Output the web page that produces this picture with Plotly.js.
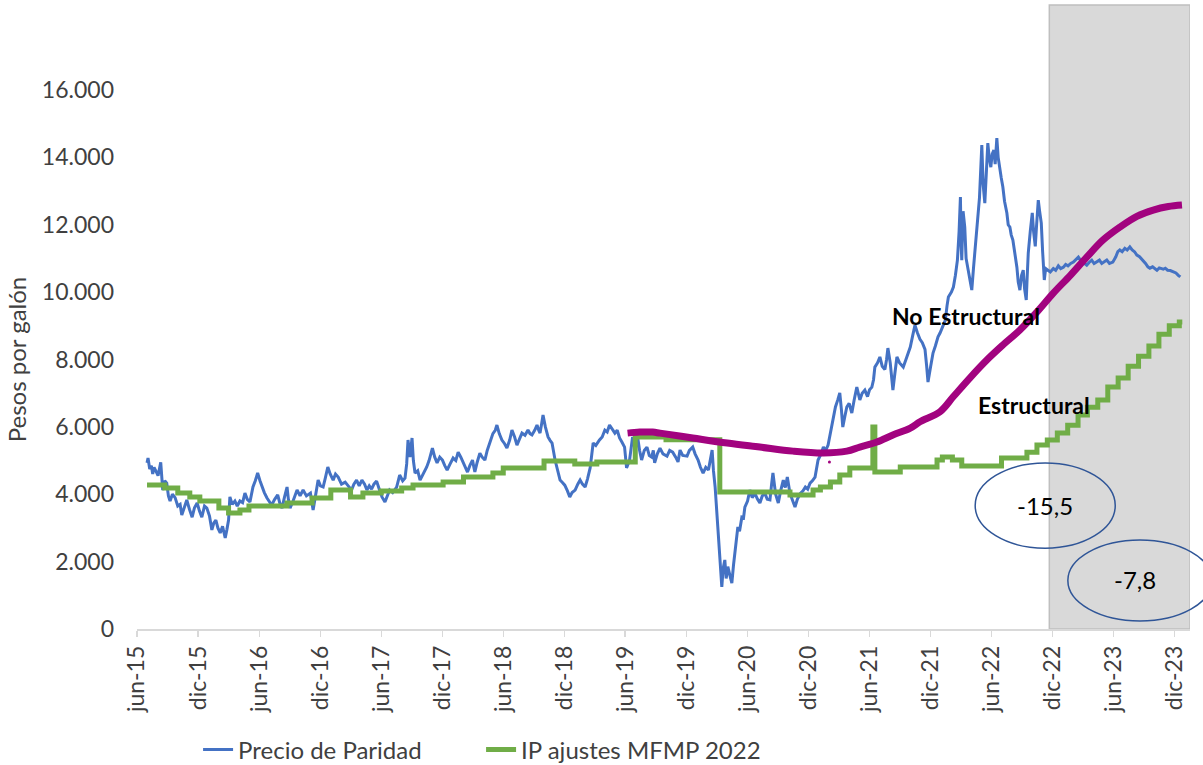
<!DOCTYPE html>
<html>
<head>
<meta charset="utf-8">
<script src="https://cdn.plot.ly/plotly-3.0.1.min.js"></script>
<style>html,body{margin:0;padding:0;background:#fff;}#chart{width:1203px;height:765px;}</style>
</head>
<body>
<div id="chart"></div>
<script>
// Precio de Paridad (pesos por galón), grouped by year
const blue2015 = [["2015-07-01",4930],["2015-07-04",5075],["2015-07-09",4750],["2015-07-14",4850],["2015-07-18",4600],["2015-07-22",4800],["2015-07-27",4700],["2015-08-03",4550],["2015-08-11",4950],["2015-08-14",4500],["2015-08-17",4125],["2015-08-23",4400],["2015-08-29",4330],["2015-09-03",3950],["2015-09-08",3800],["2015-09-15",4000],["2015-09-23",3900],["2015-10-01",3650],["2015-10-08",3700],["2015-10-13",3380],["2015-10-20",3600],["2015-10-28",3830],["2015-11-05",3550],["2015-11-13",3320],["2015-11-20",3600],["2015-11-28",3740],["2015-12-05",3500],["2015-12-12",3320],["2015-12-20",3650],["2015-12-27",3590]];
const blue2016 = [["2016-01-04",3350],["2016-01-11",2940],["2016-01-17",3150],["2016-01-23",3235],["2016-01-29",3000],["2016-02-05",2850],["2016-02-12",3050],["2016-02-20",2700],["2016-02-25",2950],["2016-03-01",3235],["2016-03-05",3920],["2016-03-12",3700],["2016-03-20",3800],["2016-03-27",3650],["2016-04-04",3800],["2016-04-12",3750],["2016-04-19",4035],["2016-04-26",3850],["2016-05-04",3770],["2016-05-09",4000],["2016-05-13",4215],["2016-05-20",4400],["2016-05-27",4630],["2016-06-03",4400],["2016-06-09",4215],["2016-06-16",4050],["2016-06-24",3890],["2016-07-01",3800],["2016-07-08",3680],["2016-07-17",3850],["2016-07-26",3980],["2016-08-01",3750],["2016-08-08",3590],["2016-08-15",3900],["2016-08-23",4215],["2016-08-27",3850],["2016-09-01",3590],["2016-09-10",3800],["2016-09-22",4125],["2016-10-01",3950],["2016-10-10",4125],["2016-10-20",3950],["2016-11-01",4035],["2016-11-09",3530],["2016-11-16",4000],["2016-11-24",4420],["2016-12-01",4250],["2016-12-09",4215],["2016-12-16",4500],["2016-12-23",4810],["2016-12-30",4600]];
const blue2017 = [["2017-01-08",4420],["2017-01-15",4600],["2017-01-23",4510],["2017-02-02",4300],["2017-02-13",4360],["2017-02-22",4250],["2017-03-04",4125],["2017-03-11",4300],["2017-03-19",4420],["2017-03-27",4250],["2017-04-04",4420],["2017-04-12",4300],["2017-04-19",4125],["2017-04-26",4250],["2017-05-03",4150],["2017-05-10",4300],["2017-05-18",4390],["2017-05-26",4150],["2017-06-03",3920],["2017-06-12",3770],["2017-06-19",3950],["2017-06-26",4125],["2017-07-05",4050],["2017-07-17",4215],["2017-07-26",4570],["2017-08-04",4400],["2017-08-11",4480],["2017-08-16",4900],["2017-08-20",5610],["2017-08-26",5100],["2017-09-01",5670],["2017-09-05",5000],["2017-09-10",4630],["2017-09-18",4700],["2017-09-25",4420],["2017-10-05",4600],["2017-10-15",4810],["2017-10-22",5000],["2017-11-01",5370],["2017-11-08",5100],["2017-11-15",4930],["2017-11-23",5100],["2017-12-01",5015],["2017-12-08",4850],["2017-12-15",4720],["2017-12-24",4900]];
const blue2018 = [["2018-01-02",5075],["2018-01-10",5000],["2018-01-17",5250],["2018-01-25",5100],["2018-02-02",4930],["2018-02-08",4800],["2018-02-14",4660],["2018-02-21",4850],["2018-03-01",5015],["2018-03-05",4800],["2018-03-08",4660],["2018-03-15",4950],["2018-03-23",5220],["2018-03-30",5100],["2018-04-07",5015],["2018-04-14",5300],["2018-04-22",5550],["2018-05-01",5800],["2018-05-08",5900],["2018-05-13",6055],["2018-05-20",5800],["2018-05-28",5610],["2018-06-05",5500],["2018-06-12",5370],["2018-06-20",5600],["2018-06-27",5905],["2018-07-05",5700],["2018-07-12",5460],["2018-07-20",5650],["2018-07-27",5815],["2018-08-05",5750],["2018-08-14",5905],["2018-08-20",5800],["2018-08-26",5760],["2018-09-03",5900],["2018-09-10",6055],["2018-09-15",5900],["2018-09-19",5815],["2018-09-24",6100],["2018-09-28",6350],["2018-10-05",6000],["2018-10-13",5700],["2018-10-19",5600],["2018-10-25",5520],["2018-11-03",5015],["2018-11-10",4700],["2018-11-18",4420],["2018-11-25",4350],["2018-12-02",4270],["2018-12-10",4100],["2018-12-17",3920],["2018-12-24",4050]];
const blue2019 = [["2019-01-02",4125],["2019-01-10",4300],["2019-01-17",4420],["2019-01-24",4300],["2019-02-01",4215],["2019-02-08",4450],["2019-02-16",4780],["2019-02-25",5520],["2019-03-05",5450],["2019-03-16",5610],["2019-03-24",5700],["2019-04-01",5905],["2019-04-08",5850],["2019-04-15",6055],["2019-04-22",5950],["2019-05-01",5815],["2019-05-08",5900],["2019-05-15",5670],["2019-05-22",5550],["2019-05-30",5400],["2019-06-05",4780],["2019-06-10",4900],["2019-06-14",5015],["2019-06-19",5400],["2019-06-23",5700],["2019-07-01",5300],["2019-07-08",5700],["2019-07-14",5300],["2019-07-20",5015],["2019-07-28",5300],["2019-08-05",5400],["2019-08-12",5150],["2019-08-19",5105],["2019-08-24",5300],["2019-08-28",4930],["2019-09-05",5200],["2019-09-13",5370],["2019-09-22",5200],["2019-10-04",5130],["2019-10-12",5300],["2019-10-21",5250],["2019-10-30",5100],["2019-11-06",4960],["2019-11-12",5310],["2019-11-20",5150],["2019-12-03",5130],["2019-12-10",5300],["2019-12-20",5400],["2019-12-27",5200]];
const blue2020 = [["2020-01-05",5015],["2020-01-12",4800],["2020-01-20",4630],["2020-01-28",4800],["2020-02-05",4720],["2020-02-10",5000],["2020-02-16",5310],["2020-02-20",4700],["2020-02-25",4215],["2020-03-04",3030],["2020-03-10",2200],["2020-03-16",1250],["2020-03-20",1800],["2020-03-25",2050],["2020-03-29",1500],["2020-04-03",1850],["2020-04-09",1600],["2020-04-15",1365],["2020-04-20",1900],["2020-04-24",2255],["2020-05-03",3030],["2020-05-08",2900],["2020-05-15",3320],["2020-05-20",3300],["2020-05-24",3620],["2020-06-01",3800],["2020-06-08",4125],["2020-06-15",3900],["2020-06-23",4025],["2020-07-01",3850],["2020-07-08",3740],["2020-07-15",3950],["2020-07-23",4025],["2020-07-30",3850],["2020-08-07",3830],["2020-08-12",4300],["2020-08-16",4630],["2020-08-24",4000],["2020-09-01",3740],["2020-09-08",4100],["2020-09-16",4420],["2020-09-22",4200],["2020-09-28",4510],["2020-10-06",4025],["2020-10-14",3800],["2020-10-21",3620],["2020-10-28",3850],["2020-11-06",4025],["2020-11-14",4100],["2020-11-21",4215],["2020-11-28",4150],["2020-12-05",4330],["2020-12-12",4400],["2020-12-20",4510],["2020-12-29",5015]];
const blue2021 = [["2021-01-07",5200],["2021-01-14",5400],["2021-01-21",5300],["2021-01-28",5460],["2021-02-04",5800],["2021-02-10",6200],["2021-02-15",6400],["2021-02-19",6590],["2021-02-26",6800],["2021-03-04",7005],["2021-03-09",6500],["2021-03-13",5995],["2021-03-19",6300],["2021-03-25",6590],["2021-04-01",6700],["2021-04-09",6410],["2021-04-16",6800],["2021-04-24",7180],["2021-05-03",6800],["2021-05-10",7000],["2021-05-18",7090],["2021-05-26",6900],["2021-06-01",7100],["2021-06-08",7180],["2021-06-13",7400],["2021-06-17",7775],["2021-06-25",7900],["2021-07-02",8075],["2021-07-09",7800],["2021-07-17",7700],["2021-07-22",8000],["2021-07-26",8340],["2021-08-02",7900],["2021-08-10",7095],["2021-08-16",7600],["2021-08-22",8075],["2021-08-30",7900],["2021-09-10",7775],["2021-09-18",8000],["2021-09-25",8200],["2021-10-01",8370],["2021-10-08",8700],["2021-10-15",9020],["2021-10-22",8800],["2021-10-30",8600],["2021-11-06",8500],["2021-11-14",8300],["2021-11-19",7800],["2021-11-23",7330],["2021-12-01",7800],["2021-12-08",8190],["2021-12-15",8400],["2021-12-23",8670],["2021-12-29",8785]];
const blue2022 = [["2022-01-07",9000],["2022-01-14",9170],["2022-01-19",9600],["2022-01-23",9855],["2022-02-01",10000],["2022-02-07",10150],["2022-02-13",10500],["2022-02-19",10950],["2022-02-24",11800],["2022-02-28",12820],["2022-03-02",11500],["2022-03-04",10950],["2022-03-08",12400],["2022-03-13",11930],["2022-03-17",11000],["2022-03-22",10740],["2022-03-28",10400],["2022-04-03",10060],["2022-04-08",10700],["2022-04-12",11160],["2022-04-17",11900],["2022-04-21",12230],["2022-04-26",12800],["2022-05-03",14365],["2022-05-07",13200],["2022-05-12",12640],["2022-05-16",13600],["2022-05-21",14425],["2022-05-25",14000],["2022-05-30",13710],["2022-06-03",14100],["2022-06-08",14215],["2022-06-12",13800],["2022-06-17",14570],["2022-06-21",14000],["2022-06-26",13620],["2022-06-30",13400],["2022-07-05",13120],["2022-07-10",12700],["2022-07-17",12350],["2022-07-21",12000],["2022-07-26",11930],["2022-07-30",11700],["2022-08-04",11545],["2022-08-10",11200],["2022-08-16",10740],["2022-08-20",10300],["2022-08-25",10060],["2022-08-30",10500],["2022-09-04",10650],["2022-09-08",10100],["2022-09-13",9765],["2022-09-16",10500],["2022-09-19",11160],["2022-09-25",11800],["2022-10-01",12350],["2022-10-05",11800],["2022-10-10",11360],["2022-10-14",12000],["2022-10-19",12730],["2022-10-23",12400],["2022-10-28",12050],["2022-11-01",11200],["2022-11-06",10360],["2022-11-10",10700],["2022-11-15",10655],["2022-11-24",10600],["2022-12-03",10700],["2022-12-10",10650],["2022-12-18",10780],["2022-12-25",10700]];
const blue2023 = [["2023-01-02",10740],["2023-01-09",10820],["2023-01-16",10780],["2023-01-24",10850],["2023-02-01",10890],["2023-02-08",10950],["2023-02-16",11040],["2023-02-22",10950],["2023-03-01",10900],["2023-03-07",10850],["2023-03-13",10800],["2023-03-20",10880],["2023-03-28",10950],["2023-04-04",10850],["2023-04-12",10890],["2023-04-20",10950],["2023-04-27",10850],["2023-05-05",10900],["2023-05-12",10950],["2023-05-20",10850],["2023-05-30",10890],["2023-06-08",11050],["2023-06-14",11200],["2023-06-20",11250],["2023-06-27",11200],["2023-07-05",11300],["2023-07-12",11250],["2023-07-20",11340],["2023-07-27",11250],["2023-08-03",11200],["2023-08-10",11100],["2023-08-18",11050],["2023-08-28",10950],["2023-09-05",10850],["2023-09-12",10750],["2023-09-18",10710],["2023-09-26",10750],["2023-10-03",10700],["2023-10-09",10650],["2023-10-16",10720],["2023-10-22",10700],["2023-10-28",10680],["2023-11-03",10710],["2023-11-10",10650],["2023-11-18",10640],["2023-11-27",10600],["2023-12-05",10570],["2023-12-12",10500],["2023-12-18",10450]];

// IP ajustes MFMP 2022 (step series)
const greenDates = ["2015-07-01","2015-08-23","2015-10-01","2015-11-06","2015-12-06","2016-02-01","2016-03-01","2016-04-04","2016-05-01","2016-08-23","2016-11-06","2017-01-01","2017-03-01","2017-04-07","2017-06-01","2017-08-01","2017-09-04","2017-12-03","2018-02-02","2018-05-01","2018-06-01","2018-10-01","2019-01-01","2019-03-08","2019-07-01","2019-10-01","2020-03-10","2020-10-06","2020-12-14","2021-01-05","2021-02-04","2021-03-04","2021-04-03","2021-06-11","2021-06-17","2021-09-01","2021-12-20","2022-01-05","2022-02-04","2022-03-04","2022-07-01","2022-09-15","2022-10-15","2022-11-15","2022-12-15","2023-01-15","2023-02-15","2023-03-15","2023-04-15","2023-05-15","2023-06-15","2023-07-15","2023-08-15","2023-09-15","2023-10-15","2023-11-15","2023-12-15","2023-12-24"];
const greenVals = [4275,4185,4035,3920,3800,3590,3440,3530,3650,3740,3890,4125,3920,4035,4095,4185,4275,4360,4510,4630,4780,4985,4900,4960,5700,5620,4065,3980,4125,4215,4360,4570,4780,5995,4660,4810,5015,5105,5015,4840,5075,5250,5460,5610,5815,6050,6350,6580,6800,7180,7450,7800,8100,8400,8750,9000,9110,9110];

// Curva (magenta)
const purpleDates = ["2019-06-08","2019-07-14","2019-08-22","2019-09-13","2019-12-20","2020-04-01","2020-07-08","2020-10-15","2021-01-14","2021-03-25","2021-05-03","2021-06-23","2021-08-10","2021-10-01","2021-10-30","2021-12-29","2022-02-07","2022-03-28","2022-05-18","2022-07-05","2022-08-25","2022-10-16","2022-12-03","2023-01-23","2023-03-13","2023-05-01","2023-06-20","2023-08-10","2023-09-28","2023-11-12","2023-12-23"];
const purpleVals = [5815,5845,5845,5815,5670,5520,5400,5280,5225,5280,5400,5550,5760,5965,6150,6450,6900,7450,7985,8430,8875,9420,9970,10500,11040,11550,11930,12250,12435,12540,12585];
const purpleDotDate = ["2021-02-01"];
const purpleDotVal = [4960];

const tickVals = ["2015-06-01","2015-12-01","2016-06-01","2016-12-01","2017-06-01","2017-12-01","2018-06-01","2018-12-01","2019-06-01","2019-12-01","2020-06-01","2020-12-01","2021-06-01","2021-12-01","2022-06-01","2022-12-01","2023-06-01","2023-12-01"];
const tickText = ["jun-15","dic-15","jun-16","dic-16","jun-17","dic-17","jun-18","dic-18","jun-19","dic-19","jun-20","dic-20","jun-21","dic-21","jun-22","dic-22","jun-23","dic-23"];
const yTicks = [0,2000,4000,6000,8000,10000,12000,14000,16000];

const bluePairs = [].concat(blue2015, blue2016, blue2017, blue2018, blue2019, blue2020, blue2021, blue2022, blue2023);
const FONT = "Lato, 'Open Sans', sans-serif";

const traces = [
  {x: bluePairs.map(p => p[0]), y: bluePairs.map(p => p[1]), type: 'scatter', mode: 'lines', name: 'Precio de Paridad',
   line: {color: '#4472c4', width: 3}},
  {x: greenDates, y: greenVals, type: 'scatter', mode: 'lines', name: 'IP ajustes MFMP 2022',
   line: {color: '#70ad47', width: 5, shape: 'hv'}},
  {x: purpleDates, y: purpleVals, type: 'scatter', mode: 'lines', showlegend: false,
   line: {color: '#a2037f', width: 7, shape: 'spline', smoothing: 1}},
  {x: purpleDotDate, y: purpleDotVal, type: 'scatter', mode: 'markers', showlegend: false,
   marker: {color: '#a2037f', size: 3}}
];

const layout = {
  width: 1203, height: 765,
  margin: {l: 137, r: 13, t: 90, b: 136, autoexpand: false},
  paper_bgcolor: '#ffffff',
  plot_bgcolor: 'rgba(0,0,0,0)',
  separators: ',.',
  font: {family: FONT, size: 23, color: '#404040'},
  showlegend: true,
  legend: {orientation: 'h', x: 0.058, xanchor: 'left', y: -0.2245, yanchor: 'middle',
           font: {family: FONT, size: 24, color: '#404040'}, entrywidth: 238, entrywidthmode: 'pixels',
           bgcolor: 'rgba(0,0,0,0)'},
  xaxis: {type: 'date', range: ['2015-06-01', '2024-01-16'], tickmode: 'array', automargin: false,
          tickvals: tickVals, ticktext: tickText, tickangle: -90,
          showgrid: false, zeroline: false, showline: true, linecolor: '#d9d9d9', linewidth: 1.5,
          ticks: 'outside', ticklen: 6, tickcolor: '#d9d9d9', tickwidth: 1.5,
          tickfont: {family: FONT, size: 23, color: '#404040'}},
  yaxis: {range: [0, 16000], tickmode: 'array', tickvals: yTicks, tickformat: ',.0f', automargin: false,
          showgrid: false, zeroline: false, showline: false, ticks: '', ticklabelstandoff: 22,
          tickfont: {family: FONT, size: 23, color: '#404040'},
          title: {text: 'Pesos por galón', font: {family: FONT, size: 24, color: '#404040'}, standoff: 8}},
  shapes: [
    {type: 'rect', layer: 'below', xref: 'x', yref: 'paper', x0: '2022-11-21', x1: '2024-01-16', y0: 0, y1: 1.1577,
     fillcolor: '#d9d9d9', line: {color: '#bfbfbf', width: 1.5}},
    {type: 'circle', layer: 'above', xref: 'paper', yref: 'paper', x0: 0.796, x1: 0.929, y0: 0.150, y1: 0.308,
     line: {color: '#2f5597', width: 1.5}},
    {type: 'circle', layer: 'above', xref: 'paper', yref: 'paper', x0: 0.884, x1: 1.021, y0: 0.015, y1: 0.165,
     line: {color: '#2f5597', width: 1.5}}
  ],
  annotations: [
    {xref: 'paper', yref: 'paper', x: 0.787, y: 0.581, xanchor: 'center', yanchor: 'middle', text: '<b>No Estructural</b>', showarrow: false,
     font: {family: FONT, size: 23, color: '#000000'}},
    {xref: 'paper', yref: 'paper', x: 0.852, y: 0.416, xanchor: 'center', yanchor: 'middle', text: '<b>Estructural</b>', showarrow: false,
     font: {family: FONT, size: 23, color: '#000000'}},
    {xref: 'paper', yref: 'paper', x: 0.862, y: 0.230, xanchor: 'center', yanchor: 'middle', text: '-15,5', showarrow: false,
     font: {family: FONT, size: 24, color: '#000000'}},
    {xref: 'paper', yref: 'paper', x: 0.948, y: 0.091, xanchor: 'center', yanchor: 'middle', text: '-7,8', showarrow: false,
     font: {family: FONT, size: 24, color: '#000000'}}
  ]
};

Plotly.newPlot('chart', traces, layout, {displayModeBar: false, staticPlot: true});
</script>
</body>
</html>
